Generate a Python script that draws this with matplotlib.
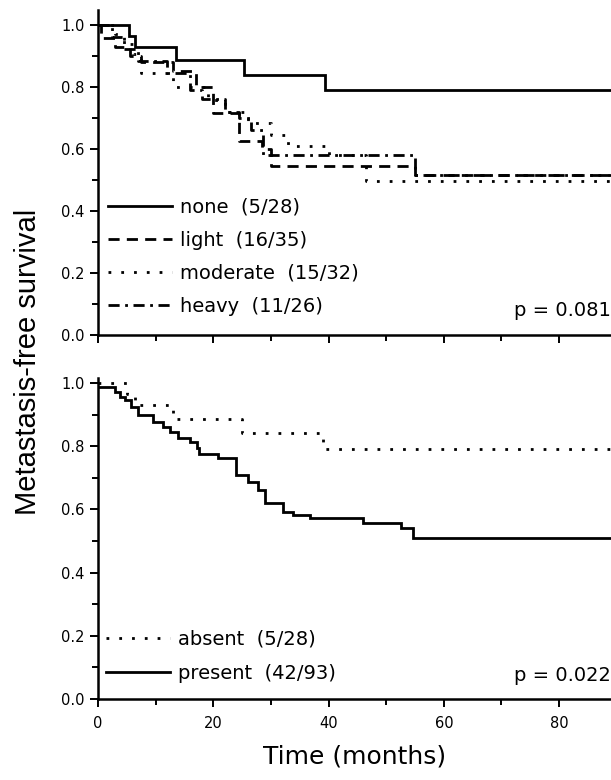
import matplotlib.pyplot as plt
from matplotlib.ticker import MultipleLocator

# Kaplan-Meier step data (time in months, survival fraction)
none_t = [0, 5.4, 6.4, 13.5, 25.3, 39.3]
none_s = [1.0, 0.964, 0.929, 0.886, 0.839, 0.789]

light_t = [0, 0.5, 3.0, 5.5, 7.5, 13.0, 17.0, 20.0, 24.5, 28.5, 30.0, 55.0]
light_s = [1.0, 0.957, 0.929, 0.900, 0.880, 0.850, 0.800, 0.716, 0.626, 0.600, 0.545, 0.515]

moderate_t = [0, 3.0, 4.5, 6.0, 7.5, 13.0, 19.0, 22.0, 26.0, 30.0, 33.0, 40.0, 46.5]
moderate_s = [1.0, 0.969, 0.938, 0.906, 0.844, 0.800, 0.758, 0.720, 0.683, 0.645, 0.610, 0.580, 0.495]

heavy_t = [0, 2.5, 4.5, 7.0, 12.0, 16.0, 18.0, 22.0, 24.5, 26.5, 28.6, 55.0]
heavy_s = [1.0, 0.962, 0.923, 0.885, 0.846, 0.790, 0.760, 0.720, 0.700, 0.660, 0.580, 0.515]

absent_t = [0, 5.0, 6.5, 13.0, 24.9, 39.0]
absent_s = [1.0, 0.964, 0.929, 0.886, 0.841, 0.791]

present_t = [0, 2.9, 3.8, 4.7, 5.8, 7.0, 9.6, 11.3, 12.5, 13.9, 15.9, 17.1, 17.6,
             20.8, 24.0, 26.0, 27.7, 28.9, 32.1, 33.8, 36.7, 45.9, 52.5, 54.6]
present_s = [0.989, 0.972, 0.957, 0.946, 0.925, 0.899, 0.878, 0.862, 0.846, 0.825,
             0.815, 0.794, 0.777, 0.762, 0.709, 0.688, 0.662, 0.620, 0.593, 0.583,
             0.572, 0.556, 0.540, 0.509]

top_labels = ['none  (5/28)', 'light  (16/35)', 'moderate  (15/32)', 'heavy  (11/26)']
bottom_labels = ['absent  (5/28)', 'present  (42/93)']
p_top = 'p = 0.081'
p_bottom = 'p = 0.022'
t_end = 90

W, H = 611, 780
fig = plt.figure(figsize=(W / 100, H / 100), dpi=100)
ax1 = fig.add_axes([98 / W, 1 - 335 / H, 1 - 98 / W, 325 / H])
ax2 = fig.add_axes([98 / W, 1 - 699 / H, 1 - 98 / W, 321 / H])

dotted = (0, (1, 3.6))
dashed = (0, (4, 2.6))
dashdot = (0, (4, 2, 1, 2))
lw = 2.0


def km(ax, t, s, ls, label):
    ax.step(list(t) + [t_end], list(s) + [s[-1]], where='post', color='black',
            lw=lw, linestyle=ls, label=label, solid_joinstyle='miter')


km(ax1, none_t, none_s, '-', top_labels[0])
km(ax1, light_t, light_s, dashed, top_labels[1])
km(ax1, moderate_t, moderate_s, dotted, top_labels[2])
km(ax1, heavy_t, heavy_s, dashdot, top_labels[3])

km(ax2, absent_t, absent_s, dotted, bottom_labels[0])
km(ax2, present_t, present_s, '-', bottom_labels[1])

for ax, ytop in ((ax1, 1.048), (ax2, 1.016)):
    ax.set_xlim(0, 89)
    ax.set_ylim(0, ytop)
    ax.spines['top'].set_visible(False)
    ax.spines['right'].set_visible(False)
    for sp in ('left', 'bottom'):
        ax.spines[sp].set_linewidth(1.8)
    ax.xaxis.set_major_locator(MultipleLocator(20))
    ax.xaxis.set_minor_locator(MultipleLocator(10))
    ax.yaxis.set_major_locator(MultipleLocator(0.2))
    ax.yaxis.set_minor_locator(MultipleLocator(0.1))
    ax.yaxis.set_major_formatter(plt.FormatStrFormatter('%.1f'))
    ax.tick_params(which='major', direction='out', length=6, width=1.4, labelsize=10.5)
    ax.tick_params(which='minor', direction='out', length=4, width=1.4)

ax1.tick_params(axis='x', which='both', labelbottom=False)
ax2.tick_params(axis='x', which='major', pad=6)

leg_kw = dict(frameon=False, loc='lower left', handlelength=3.3, handletextpad=0.4,
              borderaxespad=0, borderpad=0, prop={'family': 'DejaVu Sans', 'size': 14})
ax1.legend(bbox_to_anchor=(0.02, 0.06), labelspacing=0.72, **leg_kw)
ax2.legend(bbox_to_anchor=(0.015, 0.05), labelspacing=0.78, **leg_kw)

ax1.text(1.0, 0.045, p_top, transform=ax1.transAxes, ha='right', va='bottom',
         fontsize=14, family='DejaVu Sans')
ax2.text(1.0, 0.045, p_bottom, transform=ax2.transAxes, ha='right', va='bottom',
         fontsize=14, family='DejaVu Sans')

fig.text(28 / W, 1 - 362 / H, 'Metastasis-free survival', rotation=90,
         ha='center', va='center', fontsize=21,
         family=['Liberation Sans Narrow', 'Liberation Sans'])
ax2.set_xlabel('Time (months)', fontsize=18, family='DejaVu Sans', labelpad=10)

fig.savefig('out.png', dpi=100)
